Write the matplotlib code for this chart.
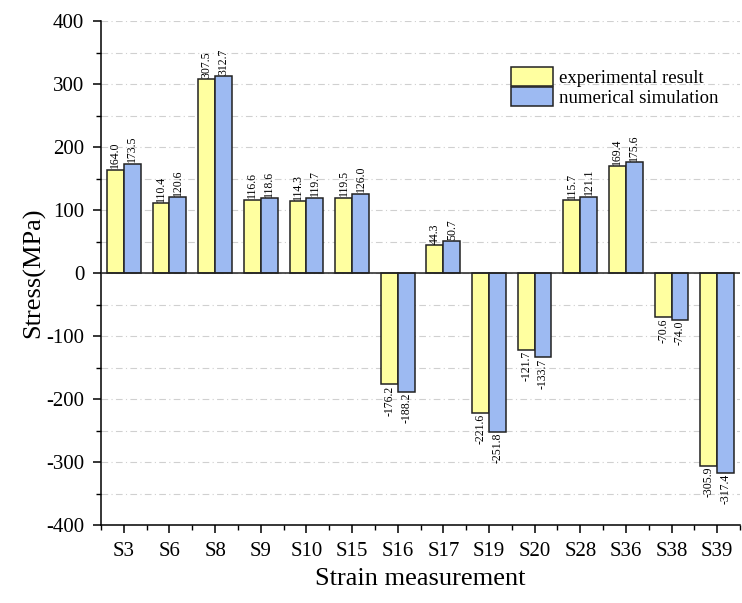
import numpy as np
import matplotlib.pyplot as plt
from matplotlib.ticker import MultipleLocator

plt.rcParams['font.family'] = ['Liberation Serif', 'DejaVu Serif']
plt.rcParams['axes.unicode_minus'] = False

gauges = ['S3', 'S6', 'S8', 'S9', 'S10', 'S15', 'S16', 'S17', 'S19', 'S20',
          'S28', 'S36', 'S38', 'S39']
experimental = [164.0, 110.4, 307.5, 116.6, 114.3, 119.5, -176.2, 44.3, -221.6,
                -121.7, 115.7, 169.4, -70.6, -305.9]
simulation = [173.5, 120.6, 312.7, 118.6, 119.7, 126.0, -188.2, 50.7, -251.8,
              -133.7, 121.1, 175.6, -74.0, -317.4]

fig = plt.figure(figsize=(7.42, 6.03), dpi=100)
ax = fig.add_axes([101 / 742, 78 / 603, 639 / 742, 504 / 603])

x = np.arange(len(gauges))
w = 0.37
b1 = ax.bar(x - w / 2, experimental, w, color='#FFFFA0', edgecolor='#222222',
            linewidth=1.1, label='experimental result', zorder=3)
b2 = ax.bar(x + w / 2, simulation, w, color='#9DBAF2', edgecolor='#222222',
            linewidth=1.1, label='numerical simulation', zorder=3)

# value labels, rotated, sitting on the end of each bar
for bars, vals in ((b1, experimental), (b2, simulation)):
    for rect, v in zip(bars, vals):
        cx = rect.get_x() + rect.get_width() / 2
        va = 'bottom' if v >= 0 else 'top'
        off = 2 if v >= 0 else -2
        ax.text(cx, v + off, f'{v:.1f}', rotation=90, ha='center', va=va,
                fontsize=8.5, zorder=4)

ax.axhline(0, color='#222222', linewidth=1.1, zorder=4)

ax.set_xlim(-0.5, 13.5)
ax.set_ylim(-400, 400)
ax.set_xticks(x)
ax.set_xticklabels(gauges)
ax.xaxis.set_minor_locator(MultipleLocator(0.5))
ax.yaxis.set_major_locator(MultipleLocator(100))
ax.yaxis.set_minor_locator(MultipleLocator(50))
ax.tick_params(axis='both', which='major', direction='out', length=6,
               width=1.1, labelsize=15)
ax.tick_params(axis='both', which='minor', direction='out', length=3.5,
               width=1.0)
ax.tick_params(axis='x', pad=6)
ax.tick_params(axis='y', pad=6)

ax.grid(True, which='both', axis='y', linestyle=(0, (6, 3, 1, 3)),
        color='#d0d0d0', linewidth=0.8, zorder=0)

for s in ('top', 'right'):
    ax.spines[s].set_visible(False)
for s in ('left', 'bottom'):
    ax.spines[s].set_linewidth(1.1)

ax.set_ylabel('Stress(MPa)', fontsize=19, labelpad=1)
ax.set_xlabel('Strain measurement', fontsize=19, labelpad=5)

ax.legend(loc='upper left', bbox_to_anchor=(0.642, 0.909), frameon=False,
          fontsize=13.5, handlelength=2.25, handleheight=1.2, handletextpad=0.3,
          labelspacing=0.0, borderpad=0, borderaxespad=0)

fig.savefig('out.png', dpi=100)
